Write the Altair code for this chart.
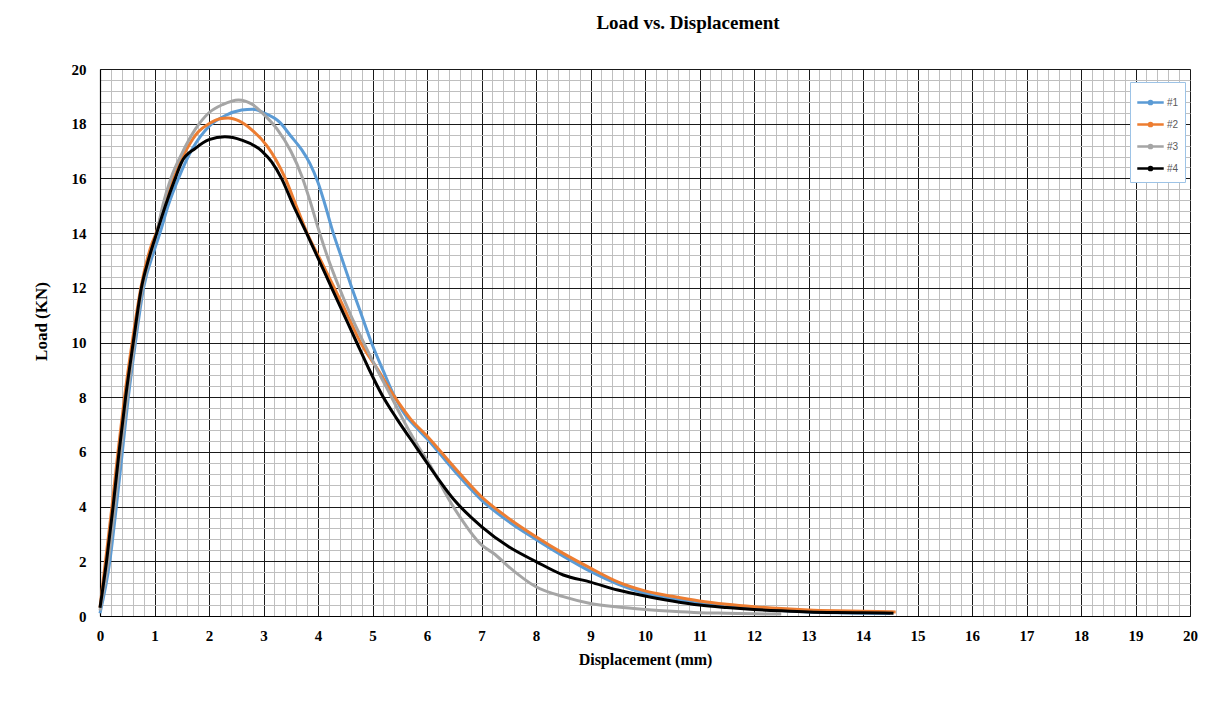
import altair as alt
import pandas as pd

# ---- data ----
x1 = [0, 0.18, 0.3, 0.41, 0.52, 0.65, 0.8, 1.0, 1.1, 1.25, 1.44, 1.7, 2.0, 2.3, 2.6, 2.8, 3.0, 3.3, 3.5, 3.7,
      3.85, 4.0, 4.12, 4.28, 4.45, 4.62, 4.8, 4.98, 5.2, 5.4, 5.6, 5.8, 6.0, 6.5, 7.0, 7.5, 8.0, 8.5, 9.0, 9.5, 10.0,
      10.5, 11.0, 11.5, 12.0, 12.5, 13.0, 13.5, 14.0, 14.5]
y1 = [0.1, 2, 4, 6, 8, 10, 12, 13.4, 14, 15, 16, 17.1, 17.9, 18.3, 18.5, 18.53, 18.4, 18.05, 17.55, 17.05,
      16.55, 15.85, 15.1, 14.0, 13.0, 12.0, 11.0, 10.0, 8.95, 8.05, 7.35, 6.9, 6.48, 5.31, 4.24, 3.45, 2.8, 2.19,
      1.63, 1.17, 0.83, 0.63, 0.48, 0.36, 0.27, 0.2, 0.15, 0.12, 0.1, 0.09]

x2 = [0, 0.1, 0.22, 0.33, 0.45, 0.59, 0.75, 0.95, 1.03, 1.2, 1.35, 1.6, 1.8, 2.0, 2.2, 2.35, 2.55, 2.8, 3.06,
      3.4, 3.6, 3.8, 4.05, 4.3, 4.54, 4.78, 5.1, 5.41, 5.7, 6.0, 6.5, 7.0, 7.5, 8.0, 8.5, 9.0, 9.5, 10.0,
      10.5, 11.0, 11.5, 12.0, 12.5, 13.0, 13.5, 14.0, 14.6]
y2 = [0.3, 2, 4, 6, 8, 10, 12, 13.6, 14, 15.2, 16.0, 17.1, 17.7, 18.0, 18.18, 18.21, 18.1, 17.75, 17.2,
      16.0, 15.0, 14.0, 13.0, 12.0, 11.0, 10.0, 9.0, 8.0, 7.2, 6.58, 5.44, 4.36, 3.57, 2.9, 2.29, 1.75, 1.25, 0.92,
      0.72, 0.55, 0.43, 0.34, 0.27, 0.22, 0.19, 0.17, 0.15]

x3 = [0, 0.15, 0.27, 0.38, 0.5, 0.63, 0.78, 0.9, 1.04, 1.15, 1.3, 1.5, 1.75, 2.0, 2.25, 2.54, 2.8, 3.0, 3.25,
      3.5, 3.7, 3.85, 4.0, 4.18, 4.37, 4.6, 4.85, 5.1, 5.35, 5.5, 5.84, 6.0, 6.5, 7.0, 7.25, 7.5, 8.0,
      8.5, 9.0, 9.5, 10.0, 10.5, 11.0, 11.5, 12.0, 12.5]
y3 = [0.2, 2, 4, 6, 8, 10, 12, 13, 14, 15, 16, 16.9, 17.8, 18.4, 18.7, 18.87, 18.7, 18.35, 17.8,
      17.0, 16.1, 15.2, 14.2, 13.1, 12.1, 11.0, 9.95, 8.95, 8.0, 7.41, 6.2, 5.7, 3.94, 2.6, 2.25, 1.8, 1.07,
      0.71, 0.46, 0.33, 0.24, 0.17, 0.12, 0.1, 0.08, 0.07]

x4 = [0, 0.12, 0.24, 0.35, 0.47, 0.61, 0.76, 0.9, 1.04, 1.2, 1.38, 1.5, 1.75, 2.0, 2.29, 2.6, 2.97, 3.15, 3.33,
      3.55, 3.79, 4.02, 4.25, 4.48, 4.71, 4.93, 5.17, 5.45, 5.81, 6.0, 6.5, 7.0, 7.5, 8.0, 8.5, 9.0, 9.5, 10.0,
      10.5, 11.0, 11.5, 12.0, 12.5, 13.0, 13.5, 14.0, 14.56]
y4 = [0.3, 2, 4, 6, 8, 10, 12, 13.1, 14, 15, 16, 16.6, 17.1, 17.42, 17.52, 17.4, 17.0, 16.6, 16.0,
      15.0, 14.0, 13.0, 12.0, 11.0, 10.0, 9.05, 8.1, 7.2, 6.15, 5.6, 4.24, 3.27, 2.53, 1.99, 1.5, 1.24, 0.95, 0.73,
      0.55, 0.4, 0.31, 0.24, 0.19, 0.15, 0.13, 0.12, 0.1]

series_names = ["#1", "#2", "#3", "#4"]
series_colors = ["#5B9BD5", "#ED7D31", "#A5A5A5", "#000000"]

x_ticks = [round(0.2 * i, 1) for i in range(101)]   # grid every 0.2 mm, labels every 1
y_ticks = [round(0.4 * i, 1) for i in range(51)]    # grid every 0.4 kN, labels every 2

frames = []
for name, xs, ys in zip(series_names, [x1, x2, x3, x4], [y1, y2, y3, y4]):
    frames.append(pd.DataFrame({"Displacement": xs, "Load": ys, "Series": name, "order": range(len(xs))}))
df = pd.concat(frames, ignore_index=True)

serif = "Liberation Serif"
major_x = "abs(datum.value - round(datum.value)) < 0.001"
major_y = "abs(datum.value / 2 - round(datum.value / 2)) < 0.001"

legend_symbol = "M-1,0H1M-0.12,0a0.12,0.12 0 1,0 0.24,0a0.12,0.12 0 1,0 -0.24,0"

chart = alt.Chart(df).mark_line(strokeWidth=3, interpolate="monotone").encode(
    x=alt.X("Displacement:Q",
            scale=alt.Scale(domain=[0, 20], nice=False, zero=False),
            axis=alt.Axis(values=x_ticks, title="Displacement (mm)",
                          labelExpr="(" + major_x + ") ? format(datum.value, 'd') : ''",
                          labelOverlap=False, labelFlush=False,
                          ticks=False, labelPadding=12,
                          labelFont=serif, labelFontSize=15, labelFontWeight="bold", labelColor="#000",
                          titleFont=serif, titleFontSize=16, titleFontWeight="bold", titleColor="#000",
                          titlePadding=8,
                          domainColor="#000", domainWidth=1.2,
                          grid=True,
                          gridColor={"condition": {"test": major_x, "value": "#1a1a1a"}, "value": "#bfbfbf"},
                          gridWidth=1)),
    y=alt.Y("Load:Q",
            scale=alt.Scale(domain=[0, 20], nice=False, zero=False),
            axis=alt.Axis(values=y_ticks, title="Load (KN)",
                          labelExpr="(" + major_y + ") ? format(datum.value, 'd') : ''",
                          labelOverlap=False, labelFlush=False,
                          ticks=False, labelPadding=14,
                          labelFont=serif, labelFontSize=15, labelFontWeight="bold", labelColor="#000",
                          titleFont=serif, titleFontSize=17, titleFontWeight="bold", titleColor="#000",
                          titleX=-50, titleY=252,
                          domainColor="#000", domainWidth=1.2,
                          grid=True,
                          gridColor={"condition": {"test": major_y, "value": "#1a1a1a"}, "value": "#bfbfbf"},
                          gridWidth=1)),
    color=alt.Color("Series:N",
                    scale=alt.Scale(domain=series_names, range=series_colors),
                    legend=alt.Legend(title=None, orient="none", legendX=1030, legendY=13,
                                      symbolType=legend_symbol, symbolSize=700, symbolStrokeWidth=2.5,
                                      labelFont="Liberation Sans", labelFontSize=10, labelColor="#595959",
                                      rowPadding=0, padding=6, strokeColor="#9DC3E6", fillColor="#ffffff",
                                      labelOffset=2)),
    order="order:Q",
).properties(
    width=1090,
    height=547,
    title=alt.Title("Load vs. Displacement", font=serif, fontSize=19, fontWeight="bold",
                    color="#000", offset=29, anchor="middle", dx=43),
    autosize=alt.AutoSizeParams(type="none"),
    padding={"left": 92, "top": 61, "right": 15, "bottom": 90},
).configure_view(stroke="#000", strokeWidth=1.2).configure(background="#ffffff")

chart.save("out.html", embed_options={"renderer": "svg", "actions": False})
